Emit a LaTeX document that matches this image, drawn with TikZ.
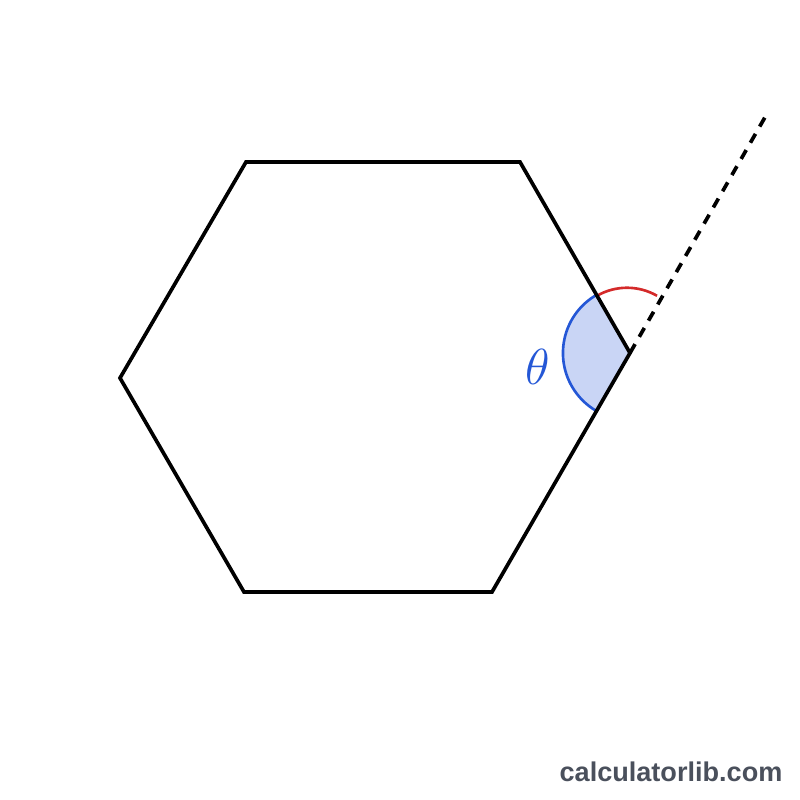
\documentclass[tikz,border=0pt]{standalone}
\usepackage{fontspec}
\newfontfamily\markfont{Liberation Sans}
\usetikzlibrary{calc}
\definecolor{anglefill}{HTML}{C9D5F5}
\definecolor{angleblue}{HTML}{2457D6}
\definecolor{anglered}{HTML}{D42A2A}
\definecolor{markgray}{HTML}{4A505C}

\begin{document}
\begin{tikzpicture}[
    x=0.01cm, y=0.01cm,
    edge/.style={line width=1.05pt, line join=miter},
    extension/.style={line width=1.05pt, dash pattern=on 2.9pt off 2.4pt},
    interior/.style={draw=angleblue, line width=0.75pt},
    exterior/.style={draw=anglered, line width=0.75pt},
    label/.style={text=angleblue, font=\fontsize{14}{16}\selectfont},
    watermark/.style={text=markgray, font=\markfont\bfseries\fontsize{7.7}{9}\selectfont}
]
\useasboundingbox (0,0) rectangle (800,800);
% hexagon corners
\coordinate (a) at (246,638);
\coordinate (b) at (520,638);
\coordinate (c) at (630,447);
\coordinate (d) at (492,208);
\coordinate (e) at (244,208);
\coordinate (f) at (120,422);
\coordinate (ext) at (768,688);

% angles at c
\fill[anglefill] (c) -- ++(120:0.67cm) arc[start angle=120, end angle=240, radius=0.67cm] -- cycle;
\draw[interior] ($(c)+(120:0.67cm)$) arc[start angle=120, end angle=240, radius=0.67cm];
\draw[exterior] ($(c)+(120:0.66cm)$) arc[start angle=120, end angle=60, radius=0.6cm];

\draw[edge] (a) -- (b) -- (c) -- (d) -- (e) -- (f) -- cycle;
\draw[extension] (c) -- (ext);

\node[label] (theta) at (538,433) {$\theta$};
\node[watermark] (site) at (671,28) {calculatorlib.com};
\end{tikzpicture}
\end{document}
